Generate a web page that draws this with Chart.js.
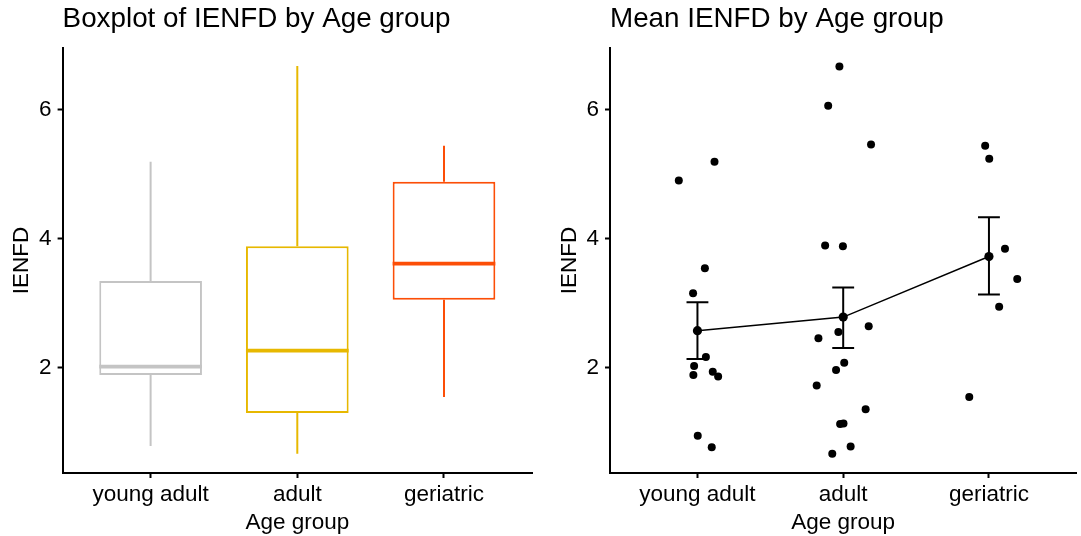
<!DOCTYPE html>
<html>
<head>
<meta charset="utf-8">
<script src="https://cdn.jsdelivr.net/npm/chart.js@4.4.1/dist/chart.umd.min.js"></script>
<style>
  html, body { margin: 0; padding: 0; background: #fff; }
  #wrap { position: relative; width: 1081px; height: 536px; overflow: hidden; }
  #boxChart { position: absolute; left: 0; top: 0; }
  #meanChart { position: absolute; left: 540px; top: 0; }
</style>
</head>
<body>
<div id="wrap">
  <canvas id="boxChart" width="540" height="536"></canvas>
  <canvas id="meanChart" width="541" height="536"></canvas>
</div>
<script>
const groups = ['young adult', 'adult', 'geriatric'];
const groupColors = ['#C4C4C4', '#E7B800', '#FC4E07'];
const yTicks = [2, 4, 6];

// box plot stats
const boxMin = [0.78, 0.66, 1.54];
const boxQ1 = [1.88, 1.29, 3.05];
const boxMedian = [2.01, 2.26, 3.61];
const boxQ3 = [3.34, 3.88, 4.88];
const boxMax = [5.19, 6.68, 5.44];

// individual IENFD values (right panel) and their horizontal jitter
const youngAdult = [4.90, 5.19, 3.54, 3.15, 2.16, 2.02, 1.88, 1.93, 1.86, 0.94, 0.76];
const youngAdultJitter = [-0.128, 0.117, 0.051, -0.030, 0.058, -0.023, -0.028, 0.105, 0.142, 0.002, 0.098];
const adult = [6.67, 6.06, 5.46, 3.89, 3.88, 2.64, 2.45, 2.55, 2.07, 1.96, 1.72, 1.35, 1.12, 1.13, 0.77, 0.66];
const adultJitter = [-0.026, -0.103, 0.191, -0.124, -0.002, 0.175, -0.170, -0.033, 0.007, -0.049, -0.182, 0.154, -0.021, 0.002, 0.051, -0.075];
const geriatric = [5.44, 5.24, 3.84, 3.37, 2.94, 1.54];
const geriatricJitter = [-0.026, 0.002, 0.110, 0.194, 0.070, -0.135];

// mean +/- se
const groupMeans = [2.57, 2.78, 3.72];
const seLow = [2.13, 2.30, 3.13];
const seHigh = [3.01, 3.24, 4.33];

const FONT = '"Liberation Sans", Arial, sans-serif';
Chart.defaults.font.family = FONT;
Chart.defaults.color = '#000';

const boxWidth = 0.7;
const capWidth = 0.15;

// shared axis setup for both panels
function makeScales(yAxisWidth) {
    return {
        x: {
            type: 'linear',
            min: 0.4,
            max: 3.6,
            offset: false,
            afterBuildTicks: (s) => { s.ticks = groups.map((g, i) => ({ value: i + 1 })); },
            afterFit: (s) => { s.height = 63; },
            ticks: {
                callback: (v) => groups[v - 1],
                font: { size: 22.5 },
                color: '#000',
                padding: 3,
                maxRotation: 0,
                autoSkip: false
            },
            grid: { display: true, drawOnChartArea: false, drawTicks: true, tickLength: 5, tickWidth: 2, color: '#000', offset: false },
            border: { display: true, color: '#000', width: 2 },
            title: { display: true, text: 'Age group', font: { size: 22.5, lineHeight: 1 }, color: '#000', padding: { top: 0, bottom: 2 } }
        },
        y: {
            type: 'linear',
            min: 0.36,
            max: 6.96,
            afterBuildTicks: (s) => { s.ticks = yTicks.map(v => ({ value: v })); },
            afterFit: (s) => { s.width = yAxisWidth; },
            ticks: { font: { size: 22.5 }, color: '#000', padding: 6 },
            grid: { display: true, drawOnChartArea: false, drawTicks: true, tickLength: 5, tickWidth: 2, color: '#000' },
            border: { display: true, color: '#000', width: 2 },
            title: { display: true, text: 'IENFD', font: { size: 22.5, lineHeight: 1.2 }, color: '#000', padding: { top: yAxisWidth - 54, bottom: 0 } }
        }
    };
}

function makePlugins(title) {
    return {
        legend: { display: false },
        tooltip: { enabled: false },
        title: {
            display: true,
            text: title,
            align: 'start',
            fullSize: false,
            color: '#000',
            font: { size: 27.8, weight: 'normal', lineHeight: 1.2 },
            padding: { top: 3, bottom: 11.5 }
        }
    };
}

// ---- left: boxplot ----
const boxDatasets = [];
groups.forEach((g, i) => {
    // whiskers
    boxDatasets.push({
        type: 'line',
        data: [
            { x: i + 1, y: boxMin[i] }, { x: i + 1, y: boxQ1[i] }, { x: i + 1, y: null },
            { x: i + 1, y: boxQ3[i] }, { x: i + 1, y: boxMax[i] }
        ],
        borderColor: groupColors[i],
        borderWidth: 2,
        pointRadius: 0,
        spanGaps: false
    });
    // median
    boxDatasets.push({
        type: 'line',
        data: [{ x: i + 1 - boxWidth / 2, y: boxMedian[i] }, { x: i + 1 + boxWidth / 2, y: boxMedian[i] }],
        borderColor: groupColors[i],
        borderWidth: 3.8,
        pointRadius: 0,
        order: -1
    });
});
boxDatasets.push({
    type: 'bar',
    data: groups.map((g, i) => ({ x: i + 1, y: [boxQ1[i], boxQ3[i]] })),
    backgroundColor: '#ffffff',
    borderColor: groupColors,
    borderWidth: 2,
    borderSkipped: false,
    categoryPercentage: boxWidth,
    barPercentage: 1
});

new Chart(document.getElementById('boxChart'), {
    type: 'line',
    data: { datasets: boxDatasets },
    options: {
        responsive: false,
        animation: false,
        devicePixelRatio: 1,
        layout: { padding: { left: 0, right: 8, top: 0, bottom: 0 } },
        plugins: makePlugins('Boxplot of IENFD by Age group'),
        scales: makeScales(62.6)
    }
});

// ---- right: mean + se with jittered points ----
const pointsData = [];
[youngAdult, adult, geriatric].forEach((vals, i) => {
    const jit = [youngAdultJitter, adultJitter, geriatricJitter][i];
    vals.forEach((v, k) => pointsData.push({ x: i + 1 + jit[k], y: v }));
});

const errData = [];
groups.forEach((g, i) => {
    const c = i + 1;
    errData.push({ x: c - capWidth / 2, y: seHigh[i] }, { x: c + capWidth / 2, y: seHigh[i] }, { x: c, y: null });
    errData.push({ x: c, y: seHigh[i] }, { x: c, y: seLow[i] }, { x: c, y: null });
    errData.push({ x: c - capWidth / 2, y: seLow[i] }, { x: c + capWidth / 2, y: seLow[i] }, { x: c, y: null });
});

new Chart(document.getElementById('meanChart'), {
    type: 'line',
    data: {
        datasets: [
            {
                type: 'scatter',
                data: pointsData,
                showLine: false,
                pointRadius: 4,
                pointBackgroundColor: '#000',
                pointBorderWidth: 0
            },
            {
                type: 'line',
                data: errData,
                borderColor: '#000',
                borderWidth: 2,
                pointRadius: 0,
                spanGaps: false
            },
            {
                type: 'line',
                data: groupMeans.map((m, i) => ({ x: i + 1, y: m })),
                borderColor: '#000',
                borderWidth: 1.5,
                pointRadius: 4.6,
                pointBackgroundColor: '#000',
                pointBorderWidth: 0
            }
        ]
    },
    options: {
        responsive: false,
        animation: false,
        devicePixelRatio: 1,
        layout: { padding: { left: 0, right: 4, top: 0, bottom: 0 } },
        plugins: makePlugins('Mean IENFD by Age group'),
        scales: makeScales(70)
    }
});
</script>
</body>
</html>
